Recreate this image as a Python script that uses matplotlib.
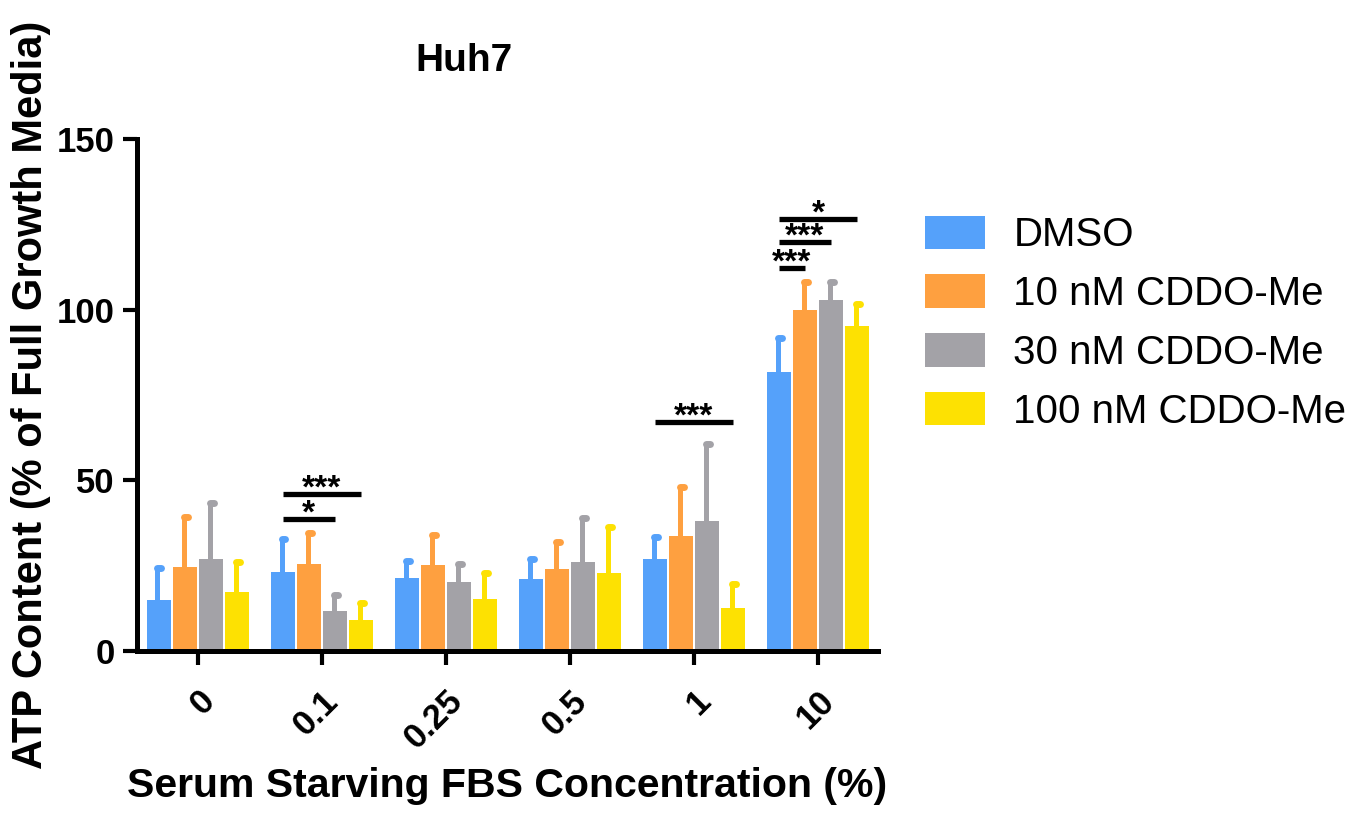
import numpy as np
import matplotlib
matplotlib.use('Agg')
import matplotlib.pyplot as plt

plt.rcParams['font.family'] = ['Liberation Sans', 'DejaVu Sans']

conc = ['0', '0.1', '0.25', '0.5', '1', '10']
labels = ['DMSO', '10 nM CDDO-Me', '30 nM CDDO-Me', '100 nM CDDO-Me']
colors = ['#55A1FA', '#FEA040', '#A3A2A7', '#FDE102']

dmso = [15.0, 23.1, 21.4, 21.1, 27.0, 81.7]
dmso_err = [9.3, 9.7, 5.0, 5.9, 6.4, 10.0]
cddo10 = [24.6, 25.5, 25.2, 24.0, 33.7, 99.9]
cddo10_err = [14.7, 9.1, 8.8, 8.0, 14.3, 8.2]
cddo30 = [27.0, 11.7, 20.2, 26.1, 38.1, 102.8]
cddo30_err = [16.4, 4.7, 5.3, 12.9, 22.5, 5.3]
cddo100 = [17.3, 9.1, 15.2, 22.9, 12.6, 95.2]
cddo100_err = [8.7, 4.9, 7.6, 13.4, 7.0, 6.5]

# (group, first bar, last bar, height, stars)
sig = [(1, 0, 2, 38.6, '*'), (1, 0, 3, 46.0, '***'), (4, 0, 3, 67.0, '***'),
       (5, 0, 1, 112.2, '***'), (5, 0, 2, 119.8, '***'), (5, 0, 3, 126.6, '*')]

means = [dmso, cddo10, cddo30, cddo100]
errs = [dmso_err, cddo10_err, cddo30_err, cddo100_err]

fig = plt.figure(figsize=(13.5, 8.14), dpi=100)
ax = fig.add_axes([0.1015, 0.2002, 0.5485, 0.629])

x = np.arange(len(conc))
offsets = [-0.315, -0.105, 0.105, 0.315]
width = 0.19

handles = []
for i in range(4):
    xi = x + offsets[i]
    b = ax.bar(xi, means[i], width, color=colors[i], label=labels[i], zorder=2)
    handles.append(b)
    tops = np.array(means[i]) + np.array(errs[i])
    ax.vlines(xi - 0.01, means[i], tops, color=colors[i], lw=3.6, zorder=1)
    for xx, tt in zip(xi, tops):
        ax.plot([xx - 0.01, xx + 0.022], [tt, tt], color=colors[i], lw=5,
                solid_capstyle='round', zorder=1)

for g, a, b_, h, s in sig:
    x0 = g + offsets[a]
    x1 = g + offsets[b_]
    ax.plot([x0, x1], [h, h], color='black', lw=3.8, solid_capstyle='butt', clip_on=False)
    ax.text((x0 + x1) / 2, h - 1.0, s, ha='center', va='baseline',
            fontsize=24, fontweight='bold')

ax.set_xlim(-0.49, 5.48)
ax.set_ylim(0, 150)
ax.set_yticks([0, 50, 100, 150])
ax.set_xticks(x)
ax.set_xticklabels(conc, rotation=45, ha='right', va='top', rotation_mode='anchor',
                   fontsize=25, fontweight='bold')
for t in ax.get_yticklabels():
    t.set_fontsize(25)
    t.set_fontweight('bold')

for s in ['top', 'right']:
    ax.spines[s].set_visible(False)
for s in ['left', 'bottom']:
    ax.spines[s].set_linewidth(3.6)
ax.tick_params(axis='both', length=10, width=3, pad=6)
ax.tick_params(axis='x', pad=14)

ax.set_ylabel('ATP Content (% of Full Growth Media)', fontsize=30, fontweight='bold', labelpad=4)
ax.set_xlabel('Serum Starving FBS Concentration (%)', fontsize=29.5, fontweight='bold', labelpad=8)
ax.text(2.15, 173, 'Huh7', ha='center', va='center', fontsize=28, fontweight='bold', clip_on=False)

fig.legend(handles=handles, labels=labels, loc='upper left', bbox_to_anchor=(0.685, 0.735),
           frameon=False, fontsize=29, handlelength=1.5, handleheight=0.9,
           handletextpad=0.7, labelspacing=0.5, borderpad=0, borderaxespad=0)

fig.savefig('out.png', dpi=100)
